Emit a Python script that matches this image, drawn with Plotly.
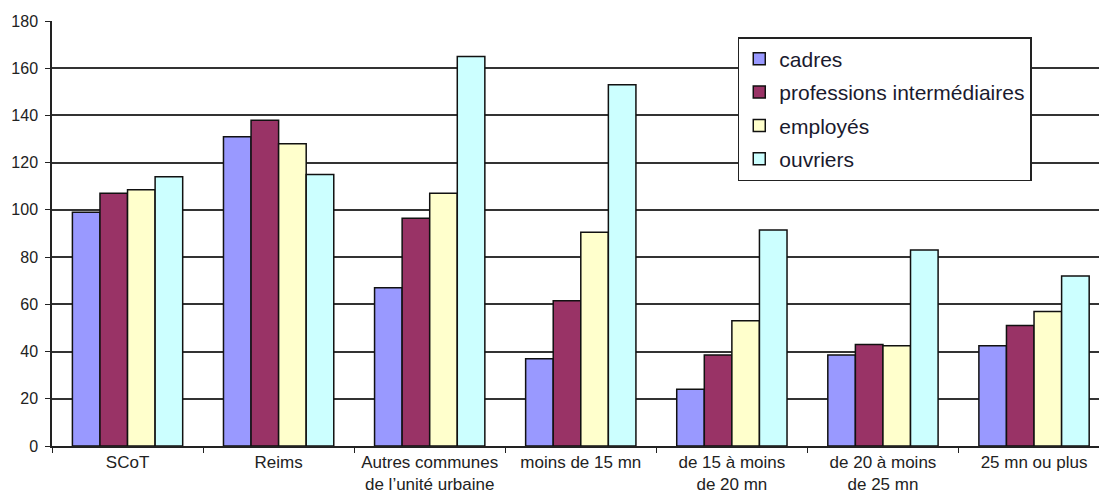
import plotly.graph_objects as go

categories = [
    "SCoT",
    "Reims",
    "Autres communes<br>de l\u2019unit\u00e9 urbaine",
    "moins de 15 mn",
    "de 15 \u00e0 moins<br>de 20 mn",
    "de 20 \u00e0 moins<br>de 25 mn",
    "25 mn ou plus",
]

cadres = [99, 131, 67, 37, 24, 38.5, 42.5]
professions_intermediaires = [107, 138, 96.5, 61.5, 38.5, 43, 51]
employes = [108.5, 128, 107, 90.5, 53, 42.5, 57]
ouvriers = [114, 115, 165, 153, 91.5, 83, 72]

series = [
    ("cadres", cadres, "#9999FF"),
    ("professions interm\u00e9diaires", professions_intermediaires, "#993366"),
    ("employ\u00e9s", employes, "#FFFFCC"),
    ("ouvriers", ouvriers, "#CCFFFF"),
]

font_family = "Arial, Liberation Sans, sans-serif"

fig = go.Figure()
for name, values, color in series:
    fig.add_trace(go.Bar(
        x=categories,
        y=values,
        name=name,
        legendgroup=name,
        marker=dict(color=color, line=dict(color="#111111", width=1.5)),
    ))

fig.update_layout(
    width=1099,
    height=498,
    margin=dict(l=52, r=0, t=21, b=52),
    paper_bgcolor="white",
    plot_bgcolor="white",
    barmode="group",
    bargap=0.27,
    bargroupgap=0,
    font=dict(family=font_family, color="#222222"),
    legend=dict(
        x=0.655,
        y=0.962,
        xanchor="left",
        yanchor="top",
        bgcolor="white",
        bordercolor="#222222",
        borderwidth=1.5,
        font=dict(size=21, color="#1a1a2e"),
        tracegroupgap=3,
        itemwidth=30,
    ),
    showlegend=True,
)

fig.update_xaxes(
    type="category",
    range=[-0.5, 6.43],
    showline=True,
    linecolor="#222222",
    linewidth=1.5,
    ticks="outside",
    tickson="boundaries",
    ticklen=5,
    tickcolor="#222222",
    tickfont=dict(size=17, color="#222222"),
    showgrid=False,
)

fig.update_yaxes(
    range=[0, 180],
    dtick=20,
    showline=True,
    linecolor="#222222",
    linewidth=1.5,
    ticks="outside",
    ticklen=5,
    tickcolor="#222222",
    ticklabelstandoff=4,
    tickfont=dict(size=16, color="#222222"),
    showgrid=True,
    gridcolor="#333333",
    gridwidth=1.5,
    zeroline=False,
)

fig.write_html("out.html")
